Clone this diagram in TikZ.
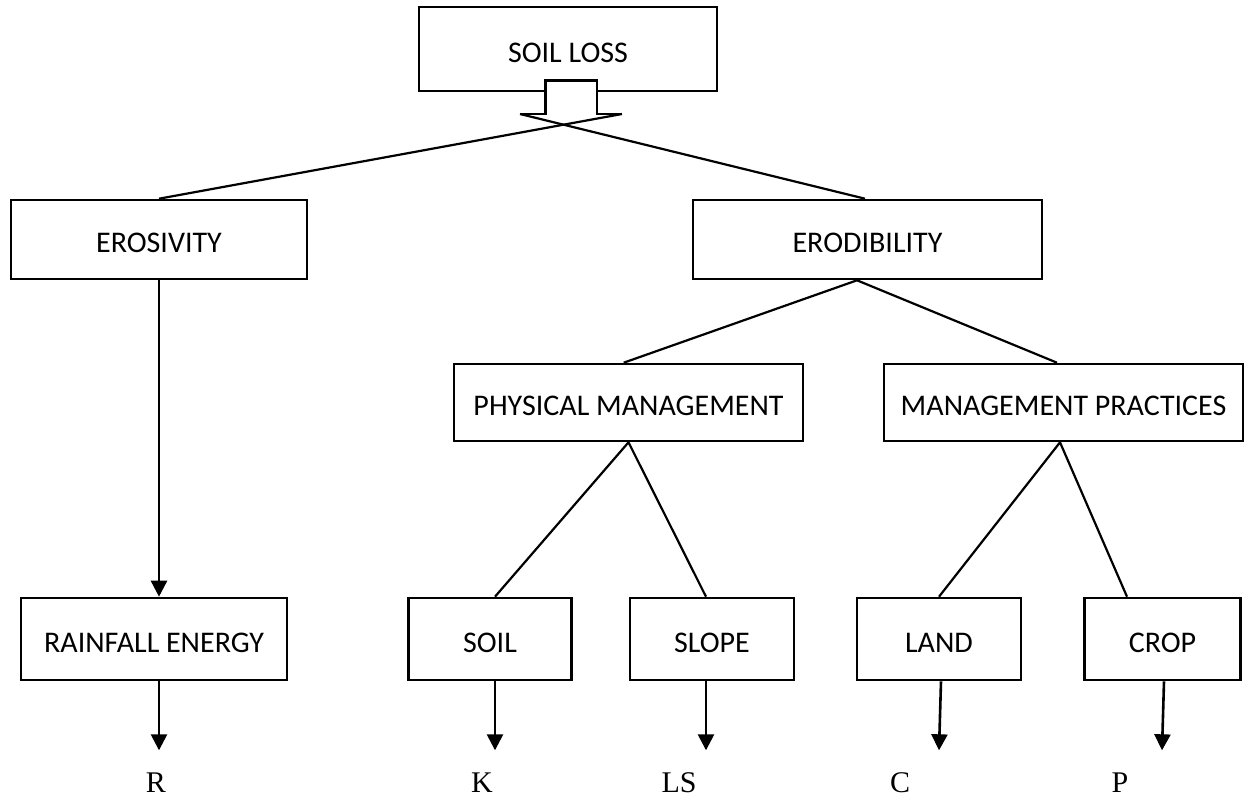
\documentclass[tikz,border=0pt]{standalone}
\usepackage{fontspec}
\setmainfont{Carlito}
\newfontfamily\tnr{Liberation Serif}
\usetikzlibrary{arrows.meta}
\begin{document}
\begin{tikzpicture}[x=0.5pt,y=-0.5pt, line width=1pt,
 box/.style={draw, line width=1.3pt, inner sep=0pt, font=\fontsize{15}{17}\selectfont, text height=13pt, text depth=0pt},
 conn/.style={line width=1.1pt},
 arr/.style={line width=1.3pt, -{Triangle[width=8pt,length=8pt]}},
 lab/.style={anchor=base, inner sep=0pt, font=\tnr\fontsize{15}{17}\selectfont}]
\useasboundingbox (0,0) rectangle (1248,799);
% boxes
\node[box, minimum width=149pt, minimum height=42pt] (soilloss) at (568,49) {SOIL LOSS};
\node[box, minimum width=148pt, minimum height=39.5pt] (eros) at (159,239.5) {EROSIVITY};
\node[box, minimum width=174.5pt, minimum height=39.5pt] (erod) at (867.5,239.5) {ERODIBILITY};
\node[box, minimum width=174.5pt, minimum height=38.5pt] (phys) at (628.5,402.5) {PHYSICAL MANAGEMENT};
\node[box, minimum width=179.5pt, minimum height=38.5pt] (mgmt) at (1063.5,402.5) {MANAGEMENT PRACTICES};
\node[box, minimum width=133pt, minimum height=41pt] (rain) at (154,639) {RAINFALL ENERGY};
\node[box, minimum width=81.5pt, minimum height=41pt] (soil) at (490,639) {SOIL};
\node[box, minimum width=82pt, minimum height=41pt] (slope) at (712,639) {SLOPE};
\node[box, minimum width=82pt, minimum height=41pt] (land) at (939,639) {LAND};
\node[box, minimum width=78pt, minimum height=41pt] (crop) at (1162.5,639) {CROP};
% block arrow below SOIL LOSS
\coordinate (sl) at (545.7,114);
\coordinate (sr) at (597,114);
\coordinate (wl) at (520,114);
\coordinate (wr) at (622,114);
\fill[white] (545.7,80.7) rectangle (597,114);
\draw[line width=1.3pt, line join=miter] (wl) -- (sl) -- (545.7,80.7) -- (597,80.7) -- (sr) -- (wr);
\draw[conn] (wl) -- ([xshift=-1.25pt]erod.north);
\draw[conn] (wr) -- (eros.north);
% tree connectors
\draw[conn] ([xshift=-2.4pt]phys.north) -- ([xshift=-5.25pt]erod.south) -- ([xshift=-3.25pt]mgmt.north);
\draw[conn] ([xshift=2.5pt]soil.north) -- (phys.south) -- ([xshift=-3pt]slope.north);
\draw[conn] (land.north) -- ([xshift=-1.75pt]mgmt.south) -- ([xshift=-17.75pt]crop.north);
\draw[arr] (eros.south) -- (eros.south |- rain.north);
% output arrows and labels
\node[lab] (R) at (156,792) {R};
\node[lab] (K) at (482,792) {K};
\node[lab] (LS) at (679,792) {LS};
\node[lab] (C) at (900,792) {C};
\node[lab] (P) at (1120,792) {P};
\draw[arr] ([xshift=2.5pt]rain.south) -- ++(0,69);
\draw[arr] ([xshift=2.5pt]soil.south) -- ++(0,69);
\draw[arr] ([xshift=-3pt]slope.south) -- ++(0,69);
\draw[arr] ([xshift=1pt]land.south) -- ++(-2,69);
\draw[arr] ([xshift=0.75pt]crop.south) -- ++(-2,69);
\end{tikzpicture}
\end{document}
